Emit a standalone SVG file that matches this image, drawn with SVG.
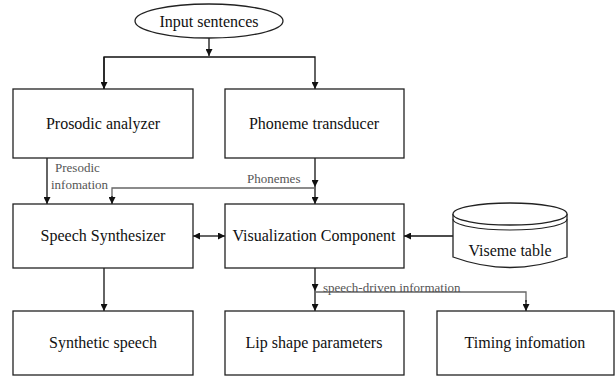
<svg xmlns="http://www.w3.org/2000/svg" width="615" height="376" viewBox="0 0 615 376">
  <style>
    .box { fill: #fff; stroke: #222; stroke-width: 1.3; }
    .lbl { font-family: "Liberation Serif", "Times New Roman", serif; font-size: 16px; fill: #111; text-anchor: middle; }
    .note { font-family: "Liberation Serif", "Times New Roman", serif; font-size: 13px; fill: #555; }
    .wire { fill: none; stroke: #111; stroke-width: 1.3; }
    .wire-g { fill: none; stroke: #666; stroke-width: 1.3; }
  </style>
  <defs>
    <marker id="arr" viewBox="0 0 10 10" refX="10" refY="5" markerWidth="7" markerHeight="7" markerUnits="userSpaceOnUse" orient="auto-start-reverse">
      <path d="M0,0 L10,5 L0,10 z" fill="#111"/>
    </marker>
  </defs>
  <rect width="615" height="376" fill="#fff"/>

  <!-- connectors -->
  <g id="connectors">
    <line class="wire" x1="209" y1="38" x2="209" y2="56" marker-end="url(#arr)"/>
    <polyline class="wire" points="104,89 104,57 315,57 315,89" marker-end="url(#arr)"/>
    <line class="wire" x1="104" y1="57" x2="104" y2="89" marker-end="url(#arr)"/>
    <line class="wire" x1="47" y1="158" x2="47" y2="204" marker-end="url(#arr)"/>
    <line class="wire" x1="315" y1="158" x2="315" y2="187" marker-end="url(#arr)"/>
    <line class="wire" x1="315" y1="187" x2="315" y2="204" marker-end="url(#arr)"/>
    <polyline class="wire-g" points="315,188 112,188 112,197"/>
    <line class="wire" x1="112" y1="196" x2="112" y2="204" marker-end="url(#arr)"/>
    <line class="wire" x1="193" y1="236" x2="225" y2="236" marker-start="url(#arr)" marker-end="url(#arr)"/>
    <line class="wire" x1="453" y1="236" x2="404" y2="236" marker-end="url(#arr)"/>
    <line class="wire" x1="104" y1="268" x2="104" y2="311" marker-end="url(#arr)"/>
    <line class="wire" x1="315" y1="268" x2="315" y2="291" marker-end="url(#arr)"/>
    <line class="wire" x1="315" y1="291" x2="315" y2="311" marker-end="url(#arr)"/>
    <polyline class="wire-g" points="315,292 526,292 526,302"/>
    <line class="wire" x1="526" y1="300" x2="526" y2="311" marker-end="url(#arr)"/>
    <text class="note" x="55" y="172">Presodic</text>
    <text class="note" x="51" y="189">infomation</text>
    <text class="note" x="247" y="183">Phonemes</text>
    <text class="note" x="323" y="292">speech-driven information</text>
  </g>

  <g id="input">
    <ellipse cx="209" cy="21" rx="74" ry="17" fill="#fff" stroke="#222" stroke-width="1.3"/>
    <text class="lbl" x="209" y="27">Input sentences</text>
  </g>
  <g id="prosodic">
    <rect class="box" x="13" y="89" width="180" height="69"/>
    <text class="lbl" x="103" y="129">Prosodic analyzer</text>
  </g>
  <g id="phoneme">
    <rect class="box" x="225" y="89" width="179" height="69"/>
    <text class="lbl" x="314" y="129">Phoneme transducer</text>
  </g>
  <g id="synth">
    <rect class="box" x="13" y="204" width="180" height="64"/>
    <text class="lbl" x="103" y="241">Speech Synthesizer</text>
  </g>
  <g id="visual">
    <rect class="box" x="225" y="204" width="179" height="64"/>
    <text class="lbl" x="314" y="241">Visualization Component</text>
  </g>
  <g id="viseme">
    <path d="M453,214 L453,257 Q510,278 567,257 L567,214" fill="#fff" stroke="#222" stroke-width="1.3"/>
    <ellipse cx="510" cy="214" rx="57" ry="11" fill="#fff" stroke="#222" stroke-width="1.3"/>
    <path d="M453,219 A57,11 0 0 0 567,219" fill="none" stroke="#222" stroke-width="1.1"/>
    <text class="lbl" x="510" y="256">Viseme table</text>
  </g>
  <g id="speech">
    <rect class="box" x="13" y="311" width="180" height="64"/>
    <text class="lbl" x="103" y="348">Synthetic speech</text>
  </g>
  <g id="lip">
    <rect class="box" x="225" y="311" width="179" height="64"/>
    <text class="lbl" x="314" y="348">Lip shape parameters</text>
  </g>
  <g id="timing">
    <rect class="box" x="437" y="311" width="177" height="64"/>
    <text class="lbl" x="525" y="348">Timing infomation</text>
  </g>
</svg>
